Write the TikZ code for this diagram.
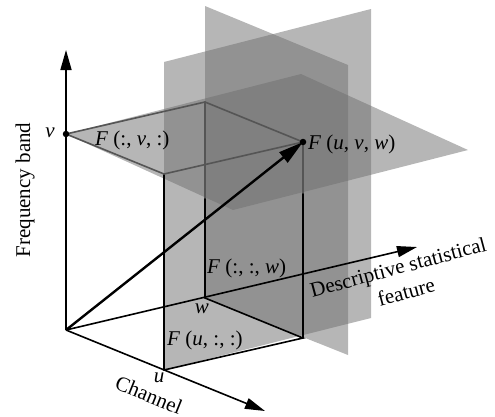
\documentclass[tikz,border=0pt]{standalone}
\usepackage{fontspec}
\setmainfont{Liberation Serif}
\usetikzlibrary{arrows.meta}
\definecolor{planefill}{RGB}{110,110,110}
\definecolor{edgegray}{RGB}{85,85,85}
\begin{document}
\begin{tikzpicture}[x=1pt,y=-1pt,
  plane/.style={fill=planefill,fill opacity=0.5,draw=none},
  edge/.style={line width=1.6pt,black,line cap=round},
  edgeg/.style={line width=1.6pt,edgegray,line join=round,line cap=round},
  axis/.style={line width=1.6pt,-{Triangle[length=20pt,width=11pt]}},
  mainarrow/.style={line width=2.4pt,-{Triangle[length=25pt,width=13pt]}},
  lbl/.style={inner sep=0pt,font=\fontsize{21}{25}\selectfont},
  dot/.style={circle,fill=black,inner sep=0pt,minimum size=6.5pt}]
\useasboundingbox (0,0) rectangle (495,416);
% cube corners
\coordinate (O) at (66,330);
\coordinate (U) at (164,370);
\coordinate (W) at (205,298);
\coordinate (V) at (66,134);
\coordinate (UW) at (303,338);
\coordinate (UV) at (164,174);
\coordinate (WV) at (205,102);
\coordinate (P) at (303,142);
\coordinate (Wm) at (205,198);
\coordinate (UWm) at (303,193);
% axis tips
\coordinate (Vtip) at (66,50);
\coordinate (Utip) at (265,411);
\coordinate (Wtip) at (417,247);
% plane A (u = const)
\coordinate (Atl) at (164,62);
\coordinate (Atr) at (371,9);
\coordinate (Abr) at (371,318);
% plane B (w = const)
\coordinate (Btl) at (205,6);
\coordinate (Btr) at (348,65);
\coordinate (Bbr) at (348,355);
% plane C (v = const)
\coordinate (Cb) at (301,74);
\coordinate (Cr) at (468,150);
\coordinate (Cf) at (233,210);
% planes
\fill[plane] (U) -- (Atl) -- (Atr) -- (Abr) -- cycle;
\fill[plane] (W) -- (Btl) -- (Btr) -- (Bbr) -- cycle;
\fill[plane] (V) -- (Cb) -- (Cr) -- (Cf) -- cycle;
% axes
\draw[axis] (O) -- (Vtip);
\draw[axis] (O) -- (Utip);
\draw[axis] (O) -- (Wtip);
% cube edges
\draw[edge] (U) -- (UW) -- (W);
\draw[edge] (U) -- (UV);
\draw[edge] (W) -- (Wm);
\draw[edgeg] (Wm) -- (WV);
\draw[edge] (UW) -- (UWm);
\draw[edgeg] (UWm) -- (P);
\draw[edgeg] (V) -- (UV) -- (P) -- (WV) -- cycle;
% main vector
\draw[mainarrow] (O) -- (P);
\node[dot] (Vd) at (V) {};
\node[dot] (Pd) at (P) {};
% labels
\node[lbl,anchor=base] (lv) at (50,137) {\textit{v}};
\node[lbl,anchor=base west] (lFv) at (95,145) {\textit{F} (:, \textit{v}, :)};
\node[lbl,anchor=base west] (lFuvw) at (308,149) {\textit{F} (\textit{u}, \textit{v}, \textit{w})};
\node[lbl,anchor=base west] (lFw) at (207,273) {\textit{F} (:, :, \textit{w})};
\node[lbl,anchor=base] (lw) at (202,313) {\textit{w}};
\node[lbl,anchor=base west] (lFu) at (167,345) {\textit{F} (\textit{u}, :, :)};
\node[lbl,anchor=base] (lu) at (159,382) {\textit{u}};
\node[lbl,rotate=90] (lfreq) at (25,190) {Frequency band};
\node[lbl,rotate=-22] (lchan) at (149,395) {Channel};
\node[lbl,rotate=15,anchor=base] (ldesc) at (400,274) {Descriptive statistical};
\node[lbl,rotate=15,anchor=base] (lfeat) at (408,299) {feature};
\end{tikzpicture}
\end{document}
